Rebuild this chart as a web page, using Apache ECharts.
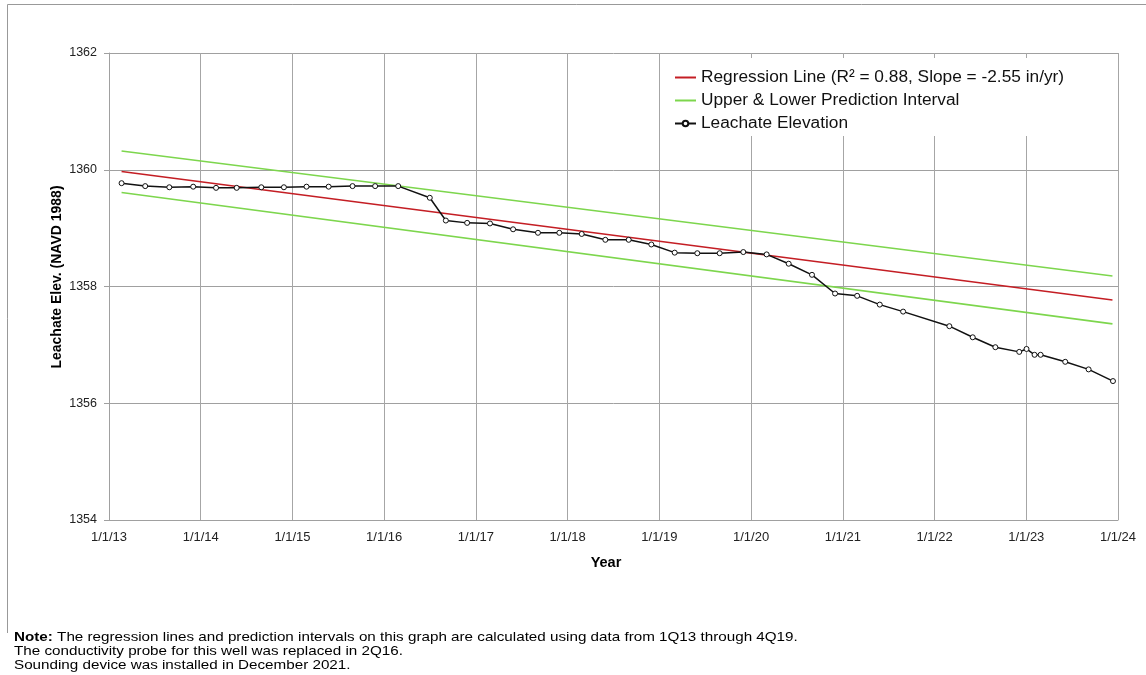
<!DOCTYPE html>
<html>
<head>
<meta charset="utf-8">
<script src="https://cdn.jsdelivr.net/npm/echarts@6/dist/echarts.min.js"></script>
<style>
html,body{margin:0;padding:0;background:#fff;}
#c{width:1146px;height:675px;}
</style>
</head>
<body>
<div id="c"></div>
<script>
// ---- data ----
const sampleDates = ['2013-02-20','2013-05-25','2013-08-29','2013-12-02','2014-03-03','2014-05-24','2014-08-30','2014-11-28','2015-02-26','2015-05-25','2015-08-28','2015-11-26','2016-02-26','2016-07-01','2016-09-03','2016-11-27','2017-02-26','2017-05-29','2017-09-05','2017-11-29','2018-02-26','2018-05-31','2018-09-01','2018-11-30','2019-03-03','2019-06-01','2019-08-29','2019-12-01','2020-03-03','2020-05-30','2020-08-31','2020-12-01','2021-02-27','2021-05-28','2021-08-29','2022-03-01','2022-06-02','2022-08-31','2022-12-04','2023-01-02','2023-02-03','2023-02-27','2023-06-05','2023-09-06','2023-12-12'];
const leachateElev = [1359.77,1359.72,1359.70,1359.71,1359.69,1359.69,1359.70,1359.70,1359.71,1359.71,1359.72,1359.72,1359.72,1359.52,1359.13,1359.09,1359.08,1358.98,1358.92,1358.92,1358.90,1358.80,1358.80,1358.72,1358.58,1358.57,1358.57,1358.59,1358.55,1358.39,1358.20,1357.88,1357.84,1357.69,1357.57,1357.32,1357.13,1356.96,1356.88,1356.93,1356.83,1356.83,1356.71,1356.58,1356.38];
const lineDates = ['2013-02-20','2023-12-10'];
const regressionLine = [1359.97,1357.77];
const upperPI = [1360.32,1358.18];
const lowerPI = [1359.61,1357.36];
const yTicks = [1354,1356,1358,1360,1362];
const xTickYears = [2013,2014,2015,2016,2017,2018,2019,2020,2021,2022,2023,2024];
const seriesNames = ['Regression Line (R² = 0.88, Slope = -2.55 in/yr)','Upper & Lower Prediction Interval','Leachate Elevation'];
const yAxisTitle = 'Leachate Elev. (NAVD 1988)';
const xAxisTitle = 'Year';
const noteLines = [
  'The regression lines and prediction intervals on this graph are calculated using data from 1Q13 through 4Q19.',
  'The conductivity probe for this well was replaced in 2Q16.',
  'Sounding device was installed in December 2021.'
];

function decYear(s){
  const [y,m,d] = s.split('-').map(Number);
  const t = Date.UTC(y,m-1,d), a = Date.UTC(y,0,1), b = Date.UTC(y+1,0,1);
  return y + (t-a)/(b-a);
}
const pairs = (ds, vs) => ds.map((d,i)=>[decYear(d), vs[i]]);

const FONT = '"Liberation Sans", Arial, sans-serif';
const RED = '#c41e24', GREEN = '#7dd64d', BLACK = '#111';
const chart = echarts.init(document.getElementById('c'));
chart.setOption({
  animation:false,
  backgroundColor:'#fff',
  grid:{left:109,right:28,top:53,bottom:155,containLabel:false},
  xAxis:{
    type:'value', min:xTickYears[0], max:xTickYears[xTickYears.length-1], interval:1,
    axisLine:{lineStyle:{color:'#a0a0a0',width:1}},
    axisTick:{show:false},
    axisLabel:{fontFamily:FONT,fontSize:13,color:'#222',margin:11,formatter:v=>'1/1/'+String(v).slice(2)},
    splitLine:{show:true,lineStyle:{color:'#a6a6a6',width:1}}
  },
  yAxis:{
    type:'value', min:yTicks[0], max:yTicks[yTicks.length-1], interval:2,
    axisLine:{show:true,lineStyle:{color:'#a0a0a0',width:1}},
    axisTick:{show:true,length:5,lineStyle:{color:'#a0a0a0'}},
    axisLabel:{fontFamily:FONT,fontSize:12.5,color:'#222',margin:12,formatter:v=>String(v)},
    splitLine:{show:true,lineStyle:{color:'#a0a0a0',width:1}}
  },
  legend:{
    orient:'vertical', left:663, top:58,
    backgroundColor:'#fff', padding:[11,8,4,11],
    itemWidth:21, itemHeight:7, itemGap:6,
    textStyle:{fontFamily:FONT,fontSize:17.3,color:'#111'},
    data:[
      {name:seriesNames[0], itemStyle:{opacity:0}},
      {name:seriesNames[1], itemStyle:{opacity:0}},
      {name:seriesNames[2]}
    ]
  },
  series:[
    {name:seriesNames[0], type:'line', data:pairs(lineDates,regressionLine),
     symbol:'none', lineStyle:{color:RED,width:1.6}, itemStyle:{color:RED}, z:3},
    {name:seriesNames[1], type:'line', data:pairs(lineDates,upperPI),
     symbol:'none', lineStyle:{color:GREEN,width:1.6}, itemStyle:{color:GREEN}, z:2},
    {name:seriesNames[1], type:'line', data:pairs(lineDates,lowerPI),
     symbol:'none', lineStyle:{color:GREEN,width:1.6}, itemStyle:{color:GREEN}, z:2},
    {name:seriesNames[2], type:'line', data:pairs(sampleDates,leachateElev),
     symbol:'circle', symbolSize:5, showAllSymbol:true,
     lineStyle:{color:BLACK,width:1.5},
     itemStyle:{color:'#fff',borderColor:BLACK,borderWidth:1}, z:4}
  ],
  graphic:[
    {type:'polyline', silent:true, shape:{points:[[7.5,633],[7.5,4.5],[1146,4.5]]}, style:{stroke:'#999',lineWidth:1,fill:null}},
    {type:'text', x:57, y:277, rotation:Math.PI/2, style:{text:yAxisTitle, fontFamily:FONT, fontSize:14, fontWeight:'bold', fill:'#000', align:'center', verticalAlign:'middle'}},
    {type:'text', x:606, y:563, style:{text:xAxisTitle, fontFamily:FONT, fontSize:14.5, fontWeight:'bold', fill:'#000', align:'center', verticalAlign:'middle'}},
    {type:'text', x:14, y:637, scaleX:1.17, style:{
      rich:{b:{fontFamily:FONT,fontSize:13,fontWeight:'bold',fill:'#000'},n:{fontFamily:FONT,fontSize:13,fill:'#000'}},
      text:'{b|Note:}{n| '+noteLines[0]+'}', verticalAlign:'middle'}},
    {type:'text', x:14, y:651, scaleX:1.17, style:{text:noteLines[1], fontFamily:FONT, fontSize:13, fill:'#000', verticalAlign:'middle'}},
    {type:'text', x:14, y:665, scaleX:1.17, style:{text:noteLines[2], fontFamily:FONT, fontSize:13, fill:'#000', verticalAlign:'middle'}}
  ]
});
</script>
</body>
</html>
